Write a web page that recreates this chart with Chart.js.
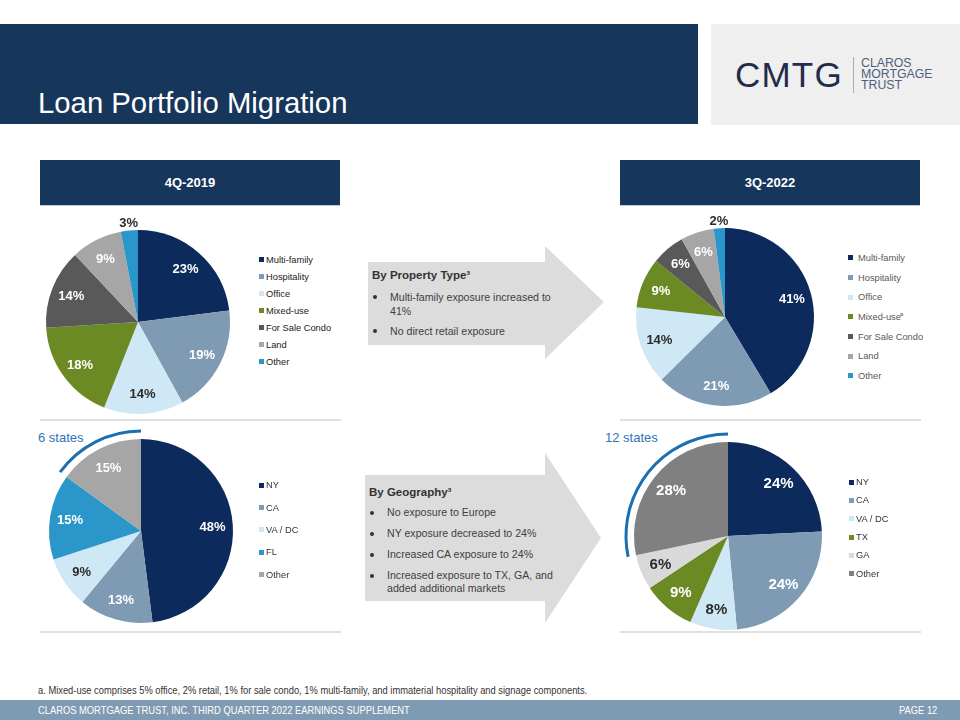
<!DOCTYPE html>
<html>
<head>
<meta charset="utf-8">
<script src="https://cdn.jsdelivr.net/npm/chart.js@4.4.0/dist/chart.umd.min.js"></script>
<style>
    body { margin: 0; width: 960px; height: 720px; position: relative; overflow: hidden; background: #fff; font-family: "Liberation Sans", Arial, sans-serif; }
    .abs { position: absolute; }
    .navy { background: #17365c; }
    .title { left: 38px; top: 88px; font-size: 29.3px; line-height: 29.3px; color: #fff; white-space: nowrap; }
    .sect { height: 45px; width: 300px; line-height: 45px; text-align: center; color: #fff; font-weight: bold; font-size: 13px; border-bottom: 1px solid #b9cbe0; }
    .sep { height: 2px; width: 301px; background: #e0e0e0; }
    .legend { font-size: 9.3px; white-space: nowrap; }
    .legend .item { display: flex; align-items: center; }
    .legend .box { width: 5px; height: 5px; flex: none; }
    .legend sup { font-size: 6px; vertical-align: 4px; margin-left: -1px; }
    .arrowTitle { font-size: 11.5px; font-weight: bold; color: #333; white-space: nowrap; line-height: 14px; }
    .bullet { font-size: 10.6px; color: #404040; white-space: nowrap; }
    .dot { width: 4px; height: 4px; border-radius: 50%; background: #333; }
    .states { font-size: 13px; line-height: 14px; color: #2e75b6; }
    .narrow { white-space: nowrap; transform-origin: 0 50%; }
    canvas { position: absolute; }
</style>
</head>
<body>

<!-- header -->
<div class="abs navy" style="left:0;top:24px;width:698px;height:100px;"></div>
<div class="abs title">Loan Portfolio Migration</div>
<div class="abs" style="left:711px;top:24px;width:249px;height:101px;background:#efefef;"></div>
<div class="abs" style="left:735px;top:57px;font-size:35px;line-height:35px;color:#1f2c4b;letter-spacing:1.2px;">CMTG</div>
<div class="abs" style="left:853px;top:57px;width:1px;height:36px;background:#a9adb5;"></div>
<div class="abs" style="left:861px;top:57.5px;font-size:12.3px;line-height:11px;color:#4e5f7b;">CLAROS<br>MORTGAGE<br>TRUST</div>

<!-- section headers -->
<div class="abs navy sect" style="left:40px;top:160px;">4Q-2019</div>
<div class="abs navy sect" style="left:620px;top:160px;">3Q-2022</div>

<div class="abs sep" style="left:40px;top:419px;"></div>
<div class="abs sep" style="left:620px;top:419px;"></div>
<div class="abs sep" style="left:40px;top:631px;"></div>
<div class="abs sep" style="left:620px;top:631px;"></div>

<!-- arrows -->
<svg class="abs" style="left:0;top:0;" width="960" height="720">
    <polygon points="368,262 545,262 545,246 604,302 545,359 545,345 368,345" fill="#dcdcdc"/>
    <polygon points="365,475 545,475 545,453 601,538 545,623 545,601 365,601" fill="#dcdcdc"/>
</svg>

<div class="abs arrowTitle" style="left:372px;top:268px;">By Property Type³</div>
<div class="abs dot" style="left:373px;top:295px;"></div>
<div class="abs bullet" style="left:390px;top:290px;line-height:14px;">Multi-family exposure increased to<br>41%</div>
<div class="abs dot" style="left:373px;top:329px;"></div>
<div class="abs bullet" style="left:390px;top:324px;line-height:14px;">No direct retail exposure</div>

<div class="abs arrowTitle" style="left:369px;top:485px;">By Geography³</div>
<div class="abs dot" style="left:370px;top:511px;"></div>
<div class="abs bullet" style="left:387px;top:506px;line-height:13px;">No exposure to Europe</div>
<div class="abs dot" style="left:370px;top:532px;"></div>
<div class="abs bullet" style="left:387px;top:527px;line-height:13px;">NY exposure decreased to 24%</div>
<div class="abs dot" style="left:370px;top:553px;"></div>
<div class="abs bullet" style="left:387px;top:548px;line-height:13px;">Increased CA exposure to 24%</div>
<div class="abs dot" style="left:370px;top:574px;"></div>
<div class="abs bullet" style="left:387px;top:569px;line-height:12.5px;">Increased exposure to TX, GA, and<br>added additional markets</div>

<div class="abs states" style="left:38px;top:431px;">6 states</div>
<div class="abs states" style="left:605px;top:431px;">12 states</div>

<canvas id="pie2019" width="220" height="220" style="left:28px;top:212px;"></canvas>
<canvas id="pie2022" width="220" height="220" style="left:615px;top:207px;"></canvas>
<canvas id="geo2019" width="220" height="220" style="left:31px;top:421px;"></canvas>
<canvas id="geo2022" width="220" height="220" style="left:618px;top:426px;"></canvas>

<div id="leg1" class="abs legend" style="left:259px;top:251px;color:#222;"></div>
<div id="leg2" class="abs legend" style="left:848px;top:248px;color:#595959;"></div>
<div id="leg3" class="abs legend" style="left:259px;top:474px;color:#333;"></div>
<div id="leg4" class="abs legend" style="left:849px;top:473px;color:#333;"></div>

<!-- footer -->
<div class="abs narrow" style="left:38px;top:684px;font-size:10.5px;line-height:12px;color:#333;transform:scaleX(0.89);">a. Mixed-use comprises 5% office, 2% retail, 1% for sale condo, 1% multi-family, and immaterial hospitality and signage components.</div>
<div class="abs" style="left:0;top:700px;width:960px;height:20px;background:#7f9bb3;"></div>
<div class="abs narrow" style="left:38px;top:704px;font-size:11px;line-height:12px;color:#fff;transform:scaleX(0.85);">CLAROS MORTGAGE TRUST, INC. THIRD QUARTER 2022 EARNINGS SUPPLEMENT</div>
<div class="abs narrow" style="left:899px;top:704px;font-size:11px;line-height:12px;color:#fff;transform:scaleX(0.85);">PAGE 12</div>

<script>
// ---- data ----
const propertyTypes = ['Multi-family', 'Hospitality', 'Office', 'Mixed-use', 'For Sale Condo', 'Land', 'Other'];
const property2019 = [23, 19, 14, 18, 14, 9, 3];
const property2022 = [41, 21, 14, 9, 6, 6, 2];

const geo2019Labels = ['NY', 'CA', 'VA / DC', 'FL', 'Other'];
const geo2019 = [48, 13, 9, 15, 15];

const geo2022Labels = ['NY', 'CA', 'VA / DC', 'TX', 'GA', 'Other'];
const geo2022 = [24, 24, 8, 9, 6, 28];

// ---- palette ----
const propertyColors = ['#0d2a5c', '#7f9bb3', '#cfe8f5', '#6b8a23', '#595959', '#a6a6a6', '#2a96c9'];
const geo2019Colors = ['#0d2a5c', '#7f9bb3', '#cfe8f5', '#2a96c9', '#a6a6a6'];
const geo2022Colors = ['#0d2a5c', '#7f9bb3', '#cfe8f5', '#6b8a23', '#d9d9d9', '#808080'];

function isLight(hex) {
    const n = parseInt(hex.slice(1), 16);
    const r = n >> 16, g = (n >> 8) & 255, b = n & 255;
    return (0.299 * r + 0.587 * g + 0.114 * b) > 190;
}

// percentage labels inside / just outside each slice
const sliceLabels = {
    id: 'sliceLabels',
    afterDatasetsDraw(chart, args, opts) {
        const ctx = chart.ctx;
        const ds = chart.data.datasets[0];
        ctx.save();
        ctx.font = 'bold ' + (opts.size || 13) + 'px "Liberation Sans", Arial, sans-serif';
        ctx.textAlign = 'center';
        ctx.textBaseline = 'middle';
        chart.getDatasetMeta(0).data.forEach((arc, i) => {
            const v = ds.data[i];
            const p = arc.getProps(['x', 'y', 'startAngle', 'endAngle', 'outerRadius'], true);
            const mid = (p.startAngle + p.endAngle) / 2;
            const outside = v < 4;
            const f = outside ? 1.09 : 0.78;
            const x = p.x + Math.cos(mid) * p.outerRadius * f;
            const y = p.y + Math.sin(mid) * p.outerRadius * f;
            ctx.fillStyle = (outside || isLight(ds.backgroundColor[i])) ? '#2b2b2b' : '#ffffff';
            ctx.fillText(v + '%', x, y + 1);
        });
        ctx.restore();
    }
};

// blue bracket arc round the "Other" slice
const statesArc = {
    id: 'statesArc',
    afterDatasetsDraw(chart, args, opts) {
        if (!opts.show) return;
        const meta = chart.getDatasetMeta(0).data;
        const last = meta[meta.length - 1];
        const ctx = chart.ctx;
        ctx.save();
        ctx.strokeStyle = '#1f6fae';
        ctx.lineWidth = 3;
        ctx.beginPath();
        ctx.arc(last.x, last.y, last.outerRadius + 8, last.startAngle, last.endAngle);
        ctx.stroke();
        ctx.restore();
    }
};

function makePie(id, labels, values, colors, pad, labelSize, arc) {
    return new Chart(document.getElementById(id), {
        type: 'pie',
        data: {
            labels: labels,
            datasets: [{ data: values, backgroundColor: colors, borderWidth: 0 }]
        },
        options: {
            responsive: false,
            animation: false,
            devicePixelRatio: 1,
            layout: { padding: pad },
            plugins: {
                legend: { display: false },
                tooltip: { enabled: false },
                sliceLabels: { size: labelSize },
                statesArc: { show: arc }
            }
        },
        plugins: [sliceLabels, statesArc]
    });
}

function buildLegend(elId, labels, colors, rowH, gap, notes) {
    const el = document.getElementById(elId);
    labels.forEach((lab, i) => {
        const row = document.createElement('div');
        row.className = 'item';
        row.style.height = rowH + 'px';
        const note = notes && notes[i] ? '<sup>' + notes[i] + '</sup>' : '';
        row.innerHTML = `<span class="box" style="background:${colors[i]};margin-right:${gap}px"></span><span>${lab}${note}</span>`;
        el.appendChild(row);
    });
}

makePie('pie2019', propertyTypes, property2019, propertyColors, 18, 13, false);
makePie('pie2022', propertyTypes, property2022, propertyColors, 21, 13, false);
makePie('geo2019', geo2019Labels, geo2019, geo2019Colors, 18, 13, true);
makePie('geo2022', geo2022Labels, geo2022, geo2022Colors, 16, 15, true);

buildLegend('leg1', propertyTypes, propertyColors, 17, 2);
buildLegend('leg2', propertyTypes, propertyColors, 19.7, 5, { 3: 'a' });
buildLegend('leg3', geo2019Labels, geo2019Colors, 22.4, 2);
buildLegend('leg4', geo2022Labels, geo2022Colors, 18.3, 2);
</script>
</body>
</html>
